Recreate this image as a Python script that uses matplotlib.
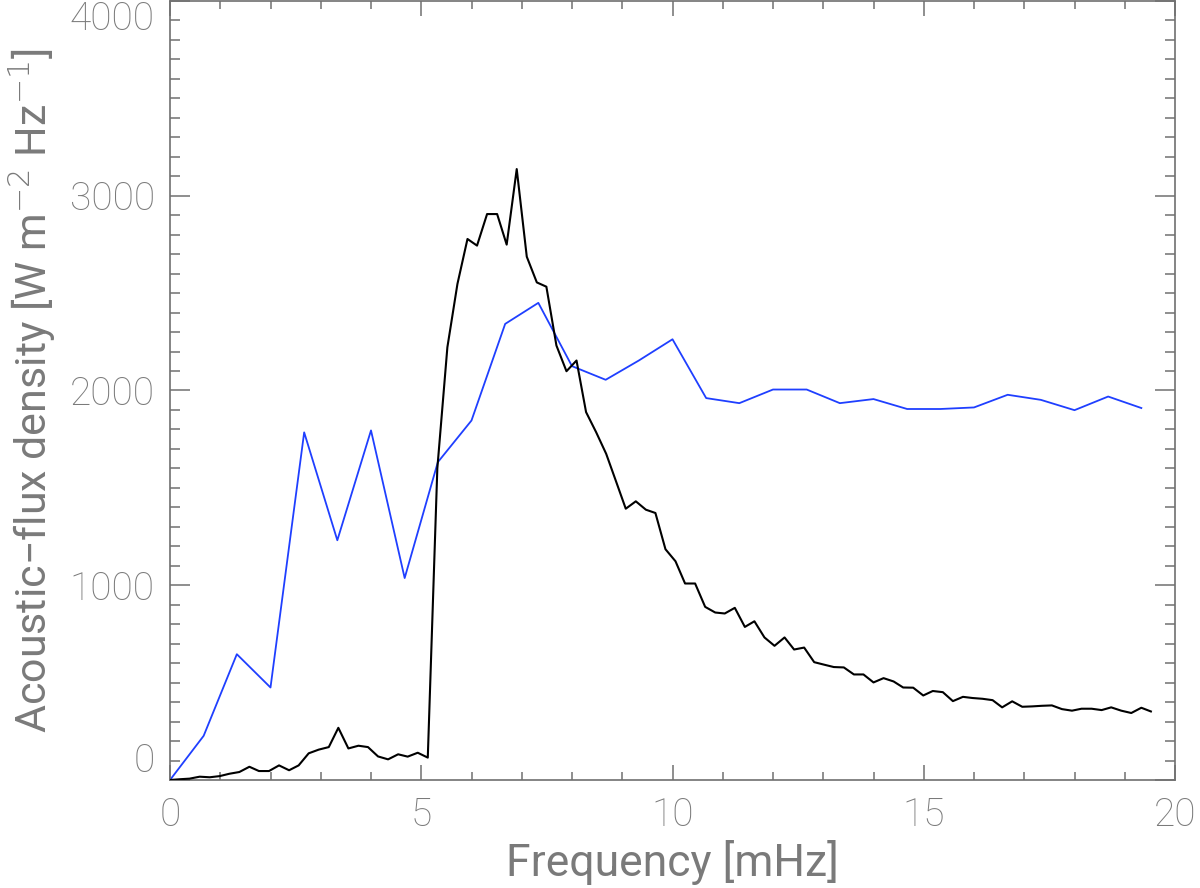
import matplotlib
matplotlib.use('Agg')
import matplotlib.pyplot as plt
from matplotlib.ticker import MultipleLocator

# --- black curve: full-resolution spectrum ---
black_freq = [
    0.00, 0.20, 0.39, 0.59, 0.79, 0.99, 1.18, 1.38, 1.58, 1.77,
    1.97, 2.17, 2.37, 2.56, 2.76, 2.96, 3.16, 3.35, 3.55, 3.75,
    3.94, 4.14, 4.34, 4.54, 4.73, 4.93, 5.13, 5.32, 5.52, 5.72,
    5.92, 6.11, 6.31, 6.51, 6.70, 6.90, 7.10, 7.30, 7.49, 7.69,
    7.89, 8.09, 8.28, 8.48, 8.68, 8.87, 9.07, 9.27, 9.47, 9.66,
    9.86, 10.06, 10.25, 10.45, 10.65, 10.85, 11.04, 11.24, 11.44, 11.63,
    11.83, 12.03, 12.23, 12.42, 12.62, 12.82, 13.02, 13.21, 13.41, 13.61,
    13.80, 14.00, 14.20, 14.40, 14.59, 14.79, 14.99, 15.18, 15.38, 15.58,
    15.78, 15.97, 16.17, 16.37, 16.56, 16.76, 16.96, 17.16, 17.35, 17.55,
    17.75, 17.95, 18.14, 18.34, 18.54, 18.73, 18.93, 19.13, 19.33, 19.52,
]
black_flux = [
    0, 4, 7, 17, 14, 20, 32, 41, 68, 46,
    46, 75, 50, 75, 137, 156, 169, 268, 162, 176,
    169, 121, 106, 132, 120, 140, 115, 1600, 2222, 2547,
    2778, 2744, 2906, 2906, 2749, 3137, 2687, 2555, 2533, 2231,
    2099, 2154, 1889, 1786, 1675, 1538, 1393, 1431, 1388, 1371,
    1185, 1123, 1009, 1009, 889, 860, 855, 884, 786, 815,
    732, 689, 732, 670, 680, 605, 592, 580, 578, 542,
    542, 501, 523, 506, 475, 474, 434, 457, 451, 405,
    427, 421, 417, 410, 373, 404, 376, 378, 381, 383,
    364, 356, 366, 366, 359, 373, 356, 344, 371, 352,
]

# --- blue curve: coarse resolution ---
blue_freq = [
    0.00, 0.67, 1.33, 2.00, 2.67, 3.33, 4.00, 4.67, 5.33, 6.00,
    6.67, 7.33, 8.00, 8.67, 9.33, 10.00, 10.67, 11.33, 12.00, 12.67,
    13.33, 14.00, 14.67, 15.33, 16.00, 16.67, 17.33, 18.00, 18.67, 19.33,
]
blue_flux = [
    0, 227, 646, 475, 1785, 1231, 1795, 1037, 1632, 1846,
    2342, 2450, 2125, 2055, 2154, 2263, 1961, 1935, 2005, 2005,
    1935, 1956, 1905, 1905, 1913, 1978, 1952, 1899, 1969, 1910,
]

text_color = '#7a7a7a'
axis_color = '#707070'

plt.rcParams['font.family'] = ['Roboto', 'DejaVu Sans']
plt.rcParams['font.weight'] = 'light'

fig = plt.figure(figsize=(12, 8.88), dpi=100)
ax = fig.add_axes([170 / 1200, 108 / 888, 1005 / 1200, 779 / 888])

ax.plot(black_freq, black_flux, color='black', linewidth=1.5, zorder=3)
ax.plot(blue_freq, blue_flux, color='#1f3fff', linewidth=1.3, zorder=2)

ax.set_xlim(0, 20)
ax.set_ylim(0, 4000)

ax.xaxis.set_major_locator(MultipleLocator(5))
ax.xaxis.set_minor_locator(MultipleLocator(1))
ax.yaxis.set_major_locator(MultipleLocator(1000))
ax.yaxis.set_minor_locator(MultipleLocator(100))

for s in ax.spines.values():
    s.set_color(axis_color)
    s.set_linewidth(1.2)

ax.tick_params(axis='both', which='both', direction='in', top=True, right=True,
               color=axis_color, width=1.1, labelcolor=text_color, labelsize=28)
ax.tick_params(axis='x', which='major', length=11, pad=12)
ax.tick_params(axis='x', which='minor', length=5.5)
ax.tick_params(axis='y', which='major', length=14.5, pad=11)
ax.tick_params(axis='y', which='minor', length=7.2)

ax.set_xlabel('Frequency [mHz]', fontsize=32, color=text_color, labelpad=4)
ax.set_ylabel('Acoustic\u2212flux density [W m$^{-2}$ Hz$^{-1}$]', fontsize=31,
              color=text_color, labelpad=8)

# end labels sit inside the axis range, as in the original
fig.canvas.draw()
for lab in ax.get_yticklabels():
    yv = lab.get_position()[1]
    if yv == 0:
        lab.set_verticalalignment('bottom')
    elif yv == 4000:
        lab.set_verticalalignment('top')

fig.savefig('out.png', dpi=100)
